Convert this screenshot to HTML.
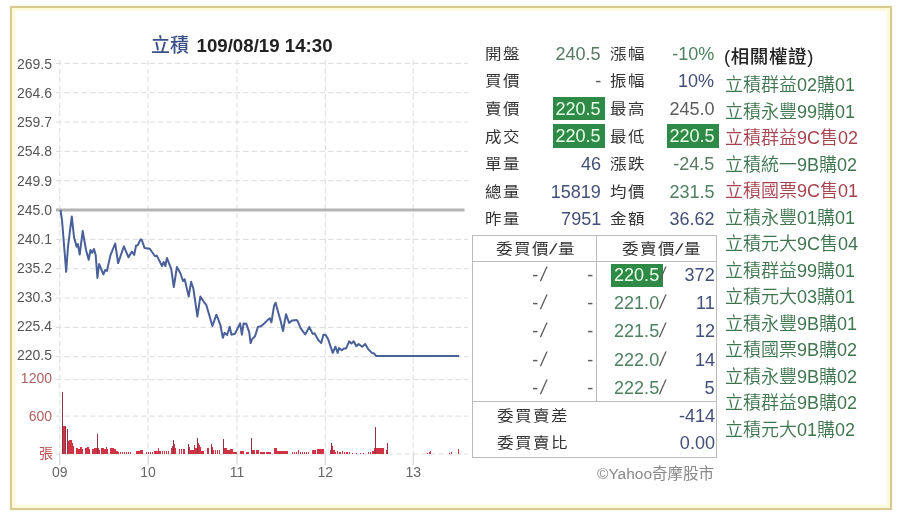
<!DOCTYPE html>
<html><head><meta charset="utf-8">
<style>
html,body{margin:0;padding:0;background:#fff;width:900px;height:520px;overflow:hidden;}
body{position:relative;font-family:"Liberation Sans","Noto Sans CJK TC",sans-serif;}
.frame{position:absolute;left:10px;top:6px;width:878px;height:500px;border:2px solid #d6cc92;box-shadow:inset 0 0 0 3px #fdfadc,0 0 0 1px #fdf8ee;}
svg{position:absolute;left:0;top:0;}
.lab{position:absolute;font-size:16.5px;line-height:27px;color:#333;font-weight:400;white-space:nowrap;}
.cj{letter-spacing:1.5px;transform:scaleY(0.9);transform-origin:0 60%;}
.num{position:absolute;font-size:19px;line-height:23.5px;white-space:nowrap;transform:scaleX(0.95);transform-origin:100% 50%;}
.nl{transform-origin:0 50%;}
.hs{display:inline-block;transform:skewX(-12deg) scaleX(1.3);margin:0 1px;}
.sl{display:inline-block;transform:skewX(-12deg) scaleY(1.06);}
.gbox{position:absolute;width:52px;height:23.5px;background:#2f8a48;}
.w{position:absolute;left:725px;font-size:18px;line-height:27px;white-space:nowrap;font-weight:350;}
.wg{color:#3f7650;}
.wr{color:#a8424e;}
.c-g{color:#4d8060;}
.c-g2{color:#567a62;}
.c-b{color:#434f78;}
.c-gr{color:#5c5c5c;}
.num.wt{color:#e6ffe6;}
.ob{position:absolute;left:472px;top:235px;width:243px;height:221px;border:1px solid #bbb;}
.ob .h{position:absolute;left:0;top:25px;width:243px;height:0;border-top:1px solid #bbb;}
.ob .v{position:absolute;left:123px;top:0;width:0;height:165px;border-left:1px solid #bbb;}
.ob .h2{position:absolute;left:0;top:165px;width:243px;height:0;border-top:1px solid #bbb;}
</style></head><body>
<div class="frame"></div>
<svg width="900" height="520" viewBox="0 0 900 520">
<g stroke="#dcdcdc" stroke-width="1" stroke-dasharray="5.5 3" fill="none"><line x1="56" y1="63.4" x2="468" y2="63.4"/><line x1="56" y1="92.7" x2="468" y2="92.7"/><line x1="56" y1="122.1" x2="468" y2="122.1"/><line x1="56" y1="151.4" x2="468" y2="151.4"/><line x1="56" y1="180.7" x2="468" y2="180.7"/><line x1="56" y1="239.4" x2="468" y2="239.4"/><line x1="56" y1="268.7" x2="468" y2="268.7"/><line x1="56" y1="298.0" x2="468" y2="298.0"/><line x1="56" y1="327.4" x2="468" y2="327.4"/><line x1="56" y1="356.7" x2="468" y2="356.7"/><line x1="56" y1="379.7" x2="468" y2="379.7"/><line x1="56" y1="416.1" x2="468" y2="416.1"/><line x1="56" y1="454.0" x2="468" y2="454.0"/><line x1="59.8" y1="60" x2="59.8" y2="454"/><line x1="148.1" y1="60" x2="148.1" y2="454"/><line x1="237.0" y1="60" x2="237.0" y2="454"/><line x1="325.3" y1="60" x2="325.3" y2="454"/><line x1="413.2" y1="60" x2="413.2" y2="454"/></g>
<line x1="56" y1="210" x2="464.5" y2="210" stroke="#b4b4b4" stroke-width="3"/>
<g stroke="#cfcfcf" stroke-width="1"><line x1="59.8" y1="454" x2="59.8" y2="465"/><line x1="148.1" y1="454" x2="148.1" y2="465"/><line x1="237.0" y1="454" x2="237.0" y2="465"/><line x1="325.3" y1="454" x2="325.3" y2="465"/><line x1="413.2" y1="454" x2="413.2" y2="465"/></g>
<g fill="#cf3344" shape-rendering="crispEdges"><rect x="63" y="425.5" width="3" height="28.5"/><rect x="68" y="441.0" width="1" height="13.0"/><rect x="69" y="440.0" width="3" height="14.0"/><rect x="72" y="443.0" width="1" height="11.0"/><rect x="73" y="446.0" width="1" height="8.0"/><rect x="76" y="448.0" width="2" height="6.0"/><rect x="78" y="449.0" width="2" height="5.0"/><rect x="80" y="447.0" width="2" height="7.0"/><rect x="82" y="449.0" width="1" height="5.0"/><rect x="85" y="448.0" width="2" height="6.0"/><rect x="87" y="447.0" width="2" height="7.0"/><rect x="89" y="449.0" width="1" height="5.0"/><rect x="92" y="449.0" width="2" height="5.0"/><rect x="94" y="448.0" width="3" height="6.0"/><rect x="98" y="448.0" width="1" height="6.0"/><rect x="99" y="450.0" width="1" height="4.0"/><rect x="101" y="448.0" width="3" height="6.0"/><rect x="104" y="449.0" width="2" height="5.0"/><rect x="106" y="446.5" width="1" height="7.5"/><rect x="107" y="449.0" width="1" height="5.0"/><rect x="110" y="448.0" width="4" height="6.0"/><rect x="114" y="449.0" width="2" height="5.0"/><rect x="116" y="451.0" width="2" height="3.0"/><rect x="118" y="452.0" width="1" height="2.0"/><rect x="120" y="452.0" width="1" height="2.0"/><rect x="122" y="452.0" width="1" height="2.0"/><rect x="124" y="452.0" width="1" height="2.0"/><rect x="126" y="452.0" width="1" height="2.0"/><rect x="128" y="452.0" width="1" height="2.0"/><rect x="130" y="452.0" width="1" height="2.0"/><rect x="136" y="450.7" width="4" height="3.3"/><rect x="140" y="450.0" width="3" height="4.0"/><rect x="146" y="452.0" width="1" height="2.0"/><rect x="148" y="452.0" width="1" height="2.0"/><rect x="150" y="452.0" width="1" height="2.0"/><rect x="152" y="452.0" width="1" height="2.0"/><rect x="154" y="451.0" width="4" height="3.0"/><rect x="158" y="448.3" width="1" height="5.7"/><rect x="159" y="451.0" width="2" height="3.0"/><rect x="162" y="451.0" width="1" height="3.0"/><rect x="164" y="451.0" width="1" height="3.0"/><rect x="166" y="451.0" width="1" height="3.0"/><rect x="168" y="451.0" width="1" height="3.0"/><rect x="171" y="448.0" width="1" height="6.0"/><rect x="172" y="446.0" width="1" height="8.0"/><rect x="173" y="439.8" width="1" height="14.2"/><rect x="174" y="444.0" width="1" height="10.0"/><rect x="175" y="448.0" width="1" height="6.0"/><rect x="179" y="449.0" width="1" height="5.0"/><rect x="181" y="449.0" width="1" height="5.0"/><rect x="183" y="449.0" width="2" height="5.0"/><rect x="188" y="444.4" width="1" height="9.6"/><rect x="189" y="447.0" width="1" height="7.0"/><rect x="190" y="450.0" width="4" height="4.0"/><rect x="194" y="445.2" width="1" height="8.8"/><rect x="195" y="448.0" width="2" height="6.0"/><rect x="197" y="437.8" width="1" height="16.2"/><rect x="198" y="443.0" width="1" height="11.0"/><rect x="199" y="445.0" width="1" height="9.0"/><rect x="200" y="447.0" width="1" height="7.0"/><rect x="201" y="451.0" width="3" height="3.0"/><rect x="207" y="448.0" width="2" height="6.0"/><rect x="211" y="444.0" width="1" height="10.0"/><rect x="212" y="447.0" width="1" height="7.0"/><rect x="213" y="449.5" width="1" height="4.5"/><rect x="215" y="449.5" width="1" height="4.5"/><rect x="217" y="449.5" width="1" height="4.5"/><rect x="219" y="449.5" width="1" height="4.5"/><rect x="223" y="439.0" width="1" height="15.0"/><rect x="224" y="447.5" width="3" height="6.5"/><rect x="227" y="450.0" width="3" height="4.0"/><rect x="230" y="449.0" width="3" height="5.0"/><rect x="233" y="451.5" width="4" height="2.5"/><rect x="240" y="451.0" width="4" height="3.0"/><rect x="246" y="452.0" width="3" height="2.0"/><rect x="251" y="437.8" width="1" height="16.2"/><rect x="252" y="450.0" width="3" height="4.0"/><rect x="256" y="450.0" width="3" height="4.0"/><rect x="260" y="452.0" width="5" height="2.0"/><rect x="266" y="452.0" width="5" height="2.0"/><rect x="274" y="448.3" width="3" height="5.7"/><rect x="277" y="450.5" width="11" height="3.5"/><rect x="292" y="451.5" width="1" height="2.5"/><rect x="294" y="451.5" width="1" height="2.5"/><rect x="296" y="451.5" width="1" height="2.5"/><rect x="298" y="450.0" width="1" height="4.0"/><rect x="300" y="451.5" width="1" height="2.5"/><rect x="302" y="451.5" width="1" height="2.5"/><rect x="304" y="451.5" width="1" height="2.5"/><rect x="306" y="451.5" width="1" height="2.5"/><rect x="308" y="451.5" width="1" height="2.5"/><rect x="312" y="450.0" width="4" height="4.0"/><rect x="317" y="448.5" width="3" height="5.5"/><rect x="320" y="449.0" width="3" height="5.0"/><rect x="323" y="448.5" width="1" height="5.5"/><rect x="330" y="450.0" width="1" height="4.0"/><rect x="331" y="443.3" width="1" height="10.7"/><rect x="332" y="446.0" width="1" height="8.0"/><rect x="333" y="450.0" width="2" height="4.0"/><rect x="335" y="451.5" width="1" height="2.5"/><rect x="337" y="450.5" width="1" height="3.5"/><rect x="339" y="451.5" width="2" height="2.5"/><rect x="342" y="451.0" width="1" height="3.0"/><rect x="344" y="451.5" width="1" height="2.5"/><rect x="346" y="451.5" width="2" height="2.5"/><rect x="349" y="452.0" width="1" height="2.0"/><rect x="352" y="452.5" width="1" height="1.5"/><rect x="356" y="452.5" width="1" height="1.5"/><rect x="360" y="452.5" width="1" height="1.5"/><rect x="363" y="452.5" width="1" height="1.5"/><rect x="368" y="452.0" width="1" height="2.0"/><rect x="370" y="451.5" width="1" height="2.5"/><rect x="372" y="451.0" width="2" height="3.0"/><rect x="374" y="448.4" width="1" height="5.6"/><rect x="375" y="426.6" width="1" height="27.4"/><rect x="376" y="448.4" width="8" height="5.6"/><rect x="386" y="450.0" width="1" height="4.0"/><rect x="387" y="443.0" width="1" height="11.0"/><rect x="427" y="452.5" width="1" height="1.5"/><rect x="429" y="452.0" width="1" height="2.0"/><rect x="430" y="450.5" width="1" height="3.5"/><rect x="449" y="452.5" width="1" height="1.5"/><rect x="451" y="452.0" width="1" height="2.0"/><rect x="458" y="449.0" width="1" height="5.0"/></g><g fill="#8d3342" shape-rendering="crispEdges"><rect x="62" y="391.5" width="1" height="62.5"/><rect x="65" y="427.0" width="1" height="27.0"/><rect x="67" y="429.0" width="1" height="25.0"/><rect x="97" y="434.0" width="1" height="20.0"/><rect x="173" y="439.8" width="1" height="14.2"/><rect x="188" y="444.4" width="1" height="9.6"/><rect x="197" y="437.8" width="1" height="16.2"/><rect x="211" y="444.0" width="1" height="10.0"/><rect x="223" y="439.0" width="1" height="15.0"/><rect x="251" y="437.8" width="1" height="16.2"/><rect x="331" y="443.3" width="1" height="10.7"/><rect x="375" y="426.6" width="1" height="27.4"/><rect x="387" y="443.0" width="1" height="11.0"/></g>
<path d="M60.5,210.0 L62.0,220.0 L66.2,271.8 L68.0,246.7 L71.8,216.4 L74.0,237.0 L76.6,246.7 L77.8,244.0 L79.7,254.5 L82.7,231.0 L86.0,250.0 L88.7,259.7 L90.5,250.0 L92.2,252.8 L94.0,249.0 L95.7,255.0 L97.4,277.9 L99.1,264.0 L103.4,274.4 L105.2,270.0 L106.9,271.0 L110.4,255.4 L115.2,243.5 L118.1,263.1 L123.9,246.4 L128.5,257.3 L131.9,251.6 L134.2,255.0 L136.0,245.8 L137.7,245.2 L140.6,239.4 L141.8,240.0 L144.6,248.1 L149.8,248.7 L155.0,256.2 L156.8,255.6 L162.0,266.0 L163.7,262.0 L165.4,266.0 L166.9,257.9 L171.2,268.9 L173.8,287.0 L176.9,267.1 L180.4,273.2 L183.0,281.0 L184.7,279.2 L188.7,296.6 L191.1,281.8 L193.4,288.8 L197.4,316.5 L200.3,296.6 L203.8,301.8 L206.4,305.2 L212.4,326.0 L216.4,314.7 L220.2,324.3 L222.8,337.8 L224.5,332.9 L227.1,335.0 L229.7,326.9 L231.5,334.7 L234.9,333.8 L240.1,323.4 L241.9,334.7 L243.6,323.4 L246.3,323.8 L249.2,332.1 L250.6,343.1 L252.1,339.1 L255.0,336.2 L257.9,327.0 L261.4,326.0 L264.2,323.5 L267.1,320.6 L269.8,318.3 L271.4,322.3 L274.1,305.6 L275.6,302.7 L278.1,311.9 L280.4,320.0 L283.0,331.0 L286.0,314.2 L289.1,322.9 L292.0,320.6 L296.6,320.0 L297.7,321.2 L300.6,328.1 L305.2,334.5 L309.3,327.0 L312.7,333.9 L314.5,333.3 L318.6,340.4 L321.2,343.1 L323.4,334.7 L325.7,335.1 L328.3,339.6 L330.6,346.7 L332.8,352.9 L335.4,346.7 L337.7,352.9 L339.0,348.0 L341.7,350.2 L344.3,348.4 L346.1,348.4 L349.2,341.3 L351.4,343.6 L353.7,341.3 L356.3,346.2 L358.6,344.0 L362.1,346.7 L365.2,344.0 L368.3,349.3 L371.9,352.9 L373.7,353.3 L376.3,356.0 L459.2,356.0" fill="none" stroke="#4a6099" stroke-width="2" stroke-linejoin="round"/>
<g font-family="Liberation Sans, sans-serif" font-size="14" fill="#555" text-anchor="end"><text x="52" y="69.0">269.5</text><text x="52" y="98.1">264.6</text><text x="52" y="127.3">259.7</text><text x="52" y="156.4">254.8</text><text x="52" y="185.6">249.9</text><text x="52" y="214.7">245.0</text><text x="52" y="243.8">240.1</text><text x="52" y="273.0">235.2</text><text x="52" y="302.1">230.3</text><text x="52" y="331.3">225.4</text><text x="52" y="360.4">220.5</text></g>
<g font-family="Liberation Sans, sans-serif" font-size="14" fill="#b06060" text-anchor="end"><text x="52" y="383.2">1200</text><text x="52" y="420.8">600</text></g>
<text x="53" y="457.5" font-family="Noto Sans CJK TC, sans-serif" font-size="14" fill="#c05050" text-anchor="end">張</text>
<g font-family="Liberation Sans, sans-serif" font-size="14" fill="#666" text-anchor="middle"><text x="59.8" y="477">09</text><text x="148.1" y="477">10</text><text x="237.0" y="477">11</text><text x="325.3" y="477">12</text><text x="413.2" y="477">13</text></g>
<text x="151" y="52" font-family="Liberation Sans, Noto Sans CJK TC, sans-serif" font-size="19" font-weight="500" fill="#3a5188">立積</text><text x="196.5" y="52" font-family="Liberation Sans, sans-serif" font-size="18.7" fill="#222" font-weight="bold">109/08/19 14:30</text>
</svg>
<div class="lab cj" style="left:485px;top:39.8px">開盤</div><div class="num c-g2" style="right:299px;top:41.5px">240.5</div><div class="lab cj" style="left:610px;top:39.8px">漲幅</div><div class="num c-g" style="right:185.5px;top:41.5px">-10%</div><div class="lab cj" style="left:485px;top:67.4px">買價</div><div class="num c-gr" style="right:299px;top:69.1px">-</div><div class="lab cj" style="left:610px;top:67.4px">振幅</div><div class="num c-b" style="right:185.5px;top:69.1px">10%</div><div class="lab cj" style="left:485px;top:95.0px">賣價</div><div class="gbox" style="left:553px;top:96.8px"></div><div class="num  wt" style="right:299px;top:96.7px">220.5</div><div class="lab cj" style="left:610px;top:95.0px">最高</div><div class="num c-gr" style="right:185.5px;top:96.7px">245.0</div><div class="lab cj" style="left:485px;top:122.6px">成交</div><div class="gbox" style="left:553px;top:124.4px"></div><div class="num  wt" style="right:299px;top:124.3px">220.5</div><div class="lab cj" style="left:610px;top:122.6px">最低</div><div class="gbox" style="left:667px;top:124.4px"></div><div class="num  wt" style="right:185.5px;top:124.3px">220.5</div><div class="lab cj" style="left:485px;top:150.2px">單量</div><div class="num c-b" style="right:299px;top:151.9px">46</div><div class="lab cj" style="left:610px;top:150.2px">漲跌</div><div class="num c-g2" style="right:185.5px;top:151.9px">-24.5</div><div class="lab cj" style="left:485px;top:177.8px">總量</div><div class="num c-b" style="right:299px;top:179.5px">15819</div><div class="lab cj" style="left:610px;top:177.8px">均價</div><div class="num c-g" style="right:185.5px;top:179.5px">231.5</div><div class="lab cj" style="left:485px;top:205.4px">昨量</div><div class="num c-b" style="right:299px;top:207.1px">7951</div><div class="lab cj" style="left:610px;top:205.4px">金額</div><div class="num c-b" style="right:185.5px;top:207.1px">36.62</div>
<div class="ob"><div class="h"></div><div class="v"></div><div class="h2"></div></div>
<div class="lab cj" style="left:496px;top:235px">委買價<span class="hs">/</span>量</div>
<div class="lab cj" style="left:622px;top:235px">委賣價<span class="hs">/</span>量</div>
<div class="num c-gr" style="right:361.5px;top:263.0px">-</div><div class="num c-gr nl" style="left:540.5px;top:263.0px"><span class="sl">/</span></div><div class="num c-gr" style="right:307px;top:263.0px">-</div><div class="gbox" style="left:611px;top:263.7px"></div><div class="num wt nl" style="left:614px;top:263.0px">220.5</div><div class="num c-gr nl" style="left:660px;top:263.0px"><span class="sl">/</span></div><div class="num c-b" style="right:185px;top:263.0px">372</div><div class="num c-gr" style="right:361.5px;top:291.2px">-</div><div class="num c-gr nl" style="left:540.5px;top:291.2px"><span class="sl">/</span></div><div class="num c-gr" style="right:307px;top:291.2px">-</div><div class="num c-g nl" style="left:614px;top:291.2px">221.0</div><div class="num c-gr nl" style="left:660px;top:291.2px"><span class="sl">/</span></div><div class="num c-b" style="right:185px;top:291.2px">11</div><div class="num c-gr" style="right:361.5px;top:319.4px">-</div><div class="num c-gr nl" style="left:540.5px;top:319.4px"><span class="sl">/</span></div><div class="num c-gr" style="right:307px;top:319.4px">-</div><div class="num c-g nl" style="left:614px;top:319.4px">221.5</div><div class="num c-gr nl" style="left:660px;top:319.4px"><span class="sl">/</span></div><div class="num c-b" style="right:185px;top:319.4px">12</div><div class="num c-gr" style="right:361.5px;top:347.6px">-</div><div class="num c-gr nl" style="left:540.5px;top:347.6px"><span class="sl">/</span></div><div class="num c-gr" style="right:307px;top:347.6px">-</div><div class="num c-g nl" style="left:614px;top:347.6px">222.0</div><div class="num c-gr nl" style="left:660px;top:347.6px"><span class="sl">/</span></div><div class="num c-b" style="right:185px;top:347.6px">14</div><div class="num c-gr" style="right:361.5px;top:375.8px">-</div><div class="num c-gr nl" style="left:540.5px;top:375.8px"><span class="sl">/</span></div><div class="num c-gr" style="right:307px;top:375.8px">-</div><div class="num c-g nl" style="left:614px;top:375.8px">222.5</div><div class="num c-gr nl" style="left:660px;top:375.8px"><span class="sl">/</span></div><div class="num c-b" style="right:185px;top:375.8px">5</div>
<div class="lab cj" style="left:497px;top:401.5px">委買賣差</div>
<div class="lab cj" style="left:497px;top:428.5px">委買賣比</div>
<div class="num c-b" style="right:185px;top:403.5px">-414</div>
<div class="num c-b" style="right:185px;top:430.5px">0.00</div>
<div class="lab" style="left:597px;top:460px;color:#888;font-size:15.5px">©Yahoo奇摩股市</div>
<div class="lab" style="left:724px;top:43px;color:#222;font-size:18.5px;font-weight:500;letter-spacing:0.6px">(相關權證)</div>
<div class="w wg" style="top:72.0px">立積群益02購01</div><div class="w wg" style="top:98.5px">立積永豐99購01</div><div class="w wr" style="top:125.0px">立積群益9C售02</div><div class="w wg" style="top:151.5px">立積統一9B購02</div><div class="w wr" style="top:178.0px">立積國票9C售01</div><div class="w wg" style="top:204.5px">立積永豐01購01</div><div class="w wg" style="top:231.0px">立積元大9C售04</div><div class="w wg" style="top:257.5px">立積群益99購01</div><div class="w wg" style="top:284.0px">立積元大03購01</div><div class="w wg" style="top:310.5px">立積永豐9B購01</div><div class="w wg" style="top:337.0px">立積國票9B購02</div><div class="w wg" style="top:363.5px">立積永豐9B購02</div><div class="w wg" style="top:390.0px">立積群益9B購02</div><div class="w wg" style="top:416.5px">立積元大01購02</div>
</body></html>
